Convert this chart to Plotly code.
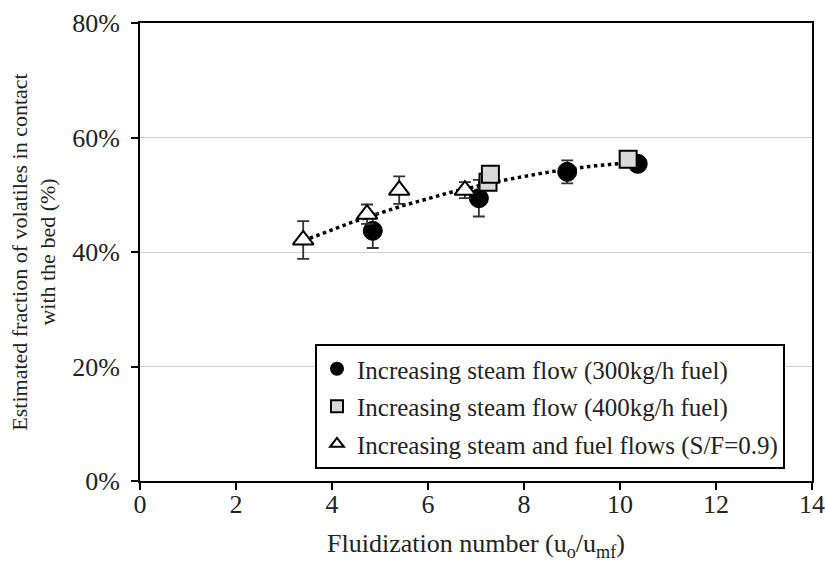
import numpy as np
import plotly.graph_objects as go

# Data
s300_x = [4.85, 7.06, 8.9, 10.37]
s300_y = [43.7, 49.4, 54.0, 55.4]
s300_err = [3.0, 3.2, 2.0, 0.0]

s400_x = [7.25, 7.3, 10.17]
s400_y = [52.2, 53.6, 56.2]
s400_err = [0.0, 0.0, 0.0]

tri_x = [3.4, 4.73, 5.4, 6.77]
tri_y = [42.1, 46.6, 50.8, 50.8]
tri_err = [3.3, 1.7, 2.4, 1.4]

legend_names = [
    "Increasing steam flow (300kg/h fuel)",
    "Increasing steam flow (400kg/h fuel)",
    "Increasing steam and fuel flows (S/F=0.9)",
]

x_ticks = [0, 2, 4, 6, 8, 10, 12, 14]
y_ticks = [0, 20, 40, 60, 80]
y_tick_labels = ["0%", "20%", "40%", "60%", "80%"]

FONT = "Liberation Serif, Times New Roman, serif"
FS = 26

# trendline: 2nd-order polynomial fit over all points
all_x = np.array(s300_x + s400_x + tri_x)
all_y = np.array(s300_y + s400_y + tri_y)
coef = np.polyfit(all_x, all_y, 2)
tx = np.linspace(min(all_x), 10.3, 60)
ty = np.polyval(coef, tx)

fig = go.Figure()

fig.add_trace(go.Scatter(
    x=tx, y=ty, mode="lines",
    line=dict(color="black", width=3.5, dash="dot"),
    showlegend=False, hoverinfo="skip"))

err_style = dict(type="data", visible=True, color="#333333", thickness=1.8, width=6)

fig.add_trace(go.Scatter(
    x=s300_x, y=s300_y, mode="markers", name=legend_names[0],
    legendgroup="a",
    error_y=dict(array=s300_err, **err_style),
    marker=dict(symbol="circle", size=19, color="black",
                line=dict(color="black", width=1))))

fig.add_trace(go.Scatter(
    x=s400_x, y=s400_y, mode="markers", name=legend_names[1],
    legendgroup="b",
    error_y=dict(array=s400_err, **err_style),
    marker=dict(symbol="square", size=17, color="#d9d9d9",
                line=dict(color="black", width=2))))

fig.add_trace(go.Scatter(
    x=tri_x, y=tri_y, mode="markers", name=legend_names[2],
    legendgroup="c",
    error_y=dict(array=tri_err, **err_style),
    marker=dict(symbol="triangle-up", size=18, color="white",
                line=dict(color="black", width=2))))

fig.update_layout(
    width=825, height=569,
    margin=dict(l=140, r=13, t=23, b=88),
    paper_bgcolor="white", plot_bgcolor="white",
    font=dict(family=FONT, size=FS, color="#222222"),
    showlegend=True,
    legend=dict(
        x=0.2604, y=0.299, xanchor="left", yanchor="top",
        bordercolor="black", borderwidth=2, bgcolor="white",
        font=dict(family=FONT, size=25, color="#222222"),
        tracegroupgap=2, itemsizing="constant", itemwidth=30,
    ),
    xaxis=dict(
        range=[0, 14], tickvals=x_ticks, ticktext=[str(v) for v in x_ticks],
        showline=True, linecolor="black", linewidth=2, mirror=True,
        ticks="outside", ticklen=7, tickwidth=2, tickcolor="black",
        showgrid=False, zeroline=False, automargin=False,
        tickfont=dict(family=FONT, size=FS), ticklabelstandoff=-8,
        title=dict(text="Fluidization number (u<sub>o</sub>/u<sub>mf</sub>)",
                   font=dict(family=FONT, size=FS), standoff=16),
    ),
    yaxis=dict(
        range=[0, 80], tickvals=y_ticks, ticktext=y_tick_labels,
        showline=True, linecolor="black", linewidth=2, mirror=True,
        ticks="outside", ticklen=7, tickwidth=2, tickcolor="black",
        showgrid=True, gridcolor="#d0d0d0", gridwidth=1, zeroline=False,
        automargin=False,
        tickfont=dict(family=FONT, size=FS), ticklabelstandoff=6,
        title=dict(text="Estimated fraction of volatiles in contact<br>with the bed (%)",
                   font=dict(family=FONT, size=22), standoff=10),
    ),
)

fig.write_html(
    "out.html",
    config={"displayModeBar": False},
    post_script="document.body.style.margin='0';document.body.style.overflow='hidden';",
)
